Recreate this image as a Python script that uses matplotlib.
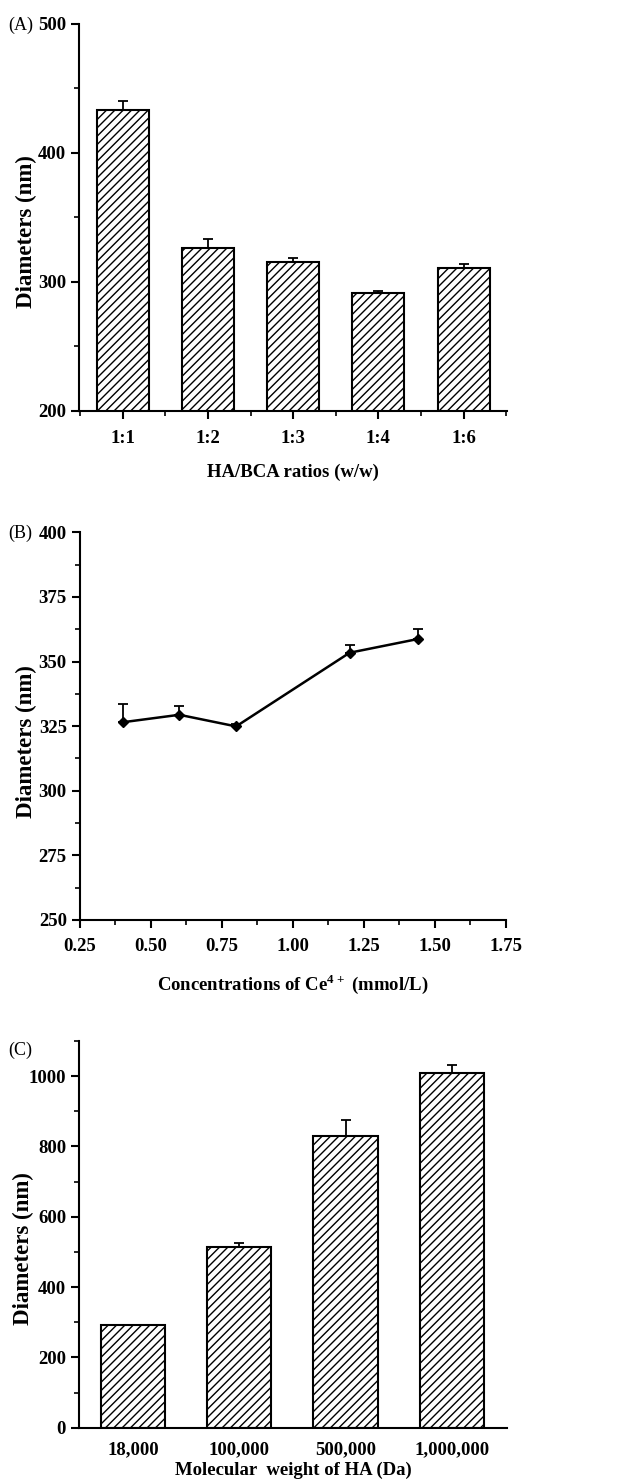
import matplotlib
matplotlib.use("Agg")
import matplotlib.pyplot as plt
from matplotlib.ticker import MultipleLocator, FixedLocator, FormatStrFormatter
import numpy as np

plt.rcParams['font.family'] = ['Liberation Serif', 'DejaVu Serif']
plt.rcParams['mathtext.fontset'] = 'custom'
plt.rcParams['mathtext.rm'] = 'Liberation Serif'
plt.rcParams['mathtext.bf'] = 'Liberation Serif:bold'
plt.rcParams['hatch.linewidth'] = 1.0

# Panel A data
ratios = ["1:1", "1:2", "1:3", "1:4", "1:6"]
diam_a = [433, 326.5, 315.5, 291.5, 310.5]
err_a = [7, 7, 3, 1, 3]

# Panel B data
conc_ce = [0.40, 0.60, 0.80, 1.20, 1.44]
diam_b = [326.5, 329.4, 324.9, 353.4, 358.7]
err_b = [7, 3.5, 1, 3, 3.8]

# Panel C data
mw_labels = ["18,000", "100,000", "500,000", "1,000,000"]
diam_c = [292, 515, 831, 1010]
err_c = [0, 9, 44, 21]

W, H = 641, 1484
fig = plt.figure(figsize=(W / 100, H / 100), dpi=100)

LW = 1.5
TICKFS = 13.5
XLABFS = 13.5
YLABFS = 16.5
PANFS = 13


def style(ax):
    for s in ['top', 'right']:
        ax.spines[s].set_visible(False)
    for s in ['left', 'bottom']:
        ax.spines[s].set_linewidth(LW)
    ax.tick_params(which='major', direction='out', length=6, width=LW, labelsize=TICKFS)
    ax.tick_params(which='minor', direction='out', length=3.5, width=1.2)
    for lab in ax.get_xticklabels() + ax.get_yticklabels():
        lab.set_fontweight('bold')


def axes_px(left, top, right, bottom):
    return fig.add_axes([left / W, 1 - bottom / H, (right - left) / W, (bottom - top) / H])


def place_ylabel(ax, text, xpix, frac):
    ax.set_ylabel(text, fontsize=YLABFS, fontweight='bold', va='center')
    bb = ax.get_position()
    ax.yaxis.set_label_coords((xpix / W - bb.x0) / bb.width, frac)


def place_xlabel(ax, text, ypix):
    ax.set_xlabel(text, fontsize=XLABFS, fontweight='bold', va='center')
    bb = ax.get_position()
    ax.xaxis.set_label_coords(0.5, ((1 - ypix / H) - bb.y0) / bb.height)


# ---------- Panel A ----------
axA = axes_px(79.3, 24, 507, 410.7)
xa = np.arange(1, len(ratios) + 1)
axA.bar(xa, diam_a, width=0.61, bottom=0, color='white', edgecolor='black',
        hatch='////', linewidth=1.5, zorder=2)
axA.errorbar(xa, diam_a, yerr=[np.zeros(len(err_a)), err_a], fmt='none',
             ecolor='black', elinewidth=1.3, capsize=3.5, capthick=1.3, zorder=3)
axA.set_ylim(200, 500)
axA.set_xlim(0.49, 5.51)
axA.set_xticks(xa)
axA.set_xticklabels(ratios)
axA.xaxis.set_minor_locator(FixedLocator(np.arange(0.5, 6.0, 1.0)))
axA.yaxis.set_major_locator(MultipleLocator(100))
axA.yaxis.set_minor_locator(MultipleLocator(50))
axA.tick_params(axis='x', pad=8)
place_ylabel(axA, "Diameters (nm)", 26, 0.462)
place_xlabel(axA, "HA/BCA ratios (w/w)", 472)
style(axA)
fig.text(8 / W, 1 - 25 / H, "(A)", fontsize=PANFS, va='center', ha='left')

# ---------- Panel B ----------
axB = axes_px(80, 532.3, 505.7, 920)
axB.errorbar(conc_ce, diam_b, yerr=[np.zeros(len(err_b)), err_b], fmt='-D',
             color='black', markersize=5, linewidth=1.8, elinewidth=1.3,
             capsize=3.5, capthick=1.3)
axB.set_ylim(250, 400)
axB.set_xlim(0.25, 1.75)
axB.xaxis.set_major_locator(MultipleLocator(0.25))
axB.xaxis.set_minor_locator(MultipleLocator(0.125))
axB.yaxis.set_major_locator(MultipleLocator(25))
axB.yaxis.set_minor_locator(MultipleLocator(12.5))
axB.xaxis.set_major_formatter(FormatStrFormatter('%.2f'))
axB.tick_params(axis='x', pad=7)
place_ylabel(axB, "Diameters (nm)", 26, 0.46)
place_xlabel(axB, r"Concentrations of Ce$^{\mathbf{4+}}$ (mmol/L)", 984)
style(axB)
fig.text(8 / W, 1 - 533 / H, "(B)", fontsize=PANFS, va='center', ha='left')

# ---------- Panel C ----------
axC = axes_px(79.3, 1041, 506.7, 1427.7)
xc = np.arange(1, len(mw_labels) + 1)
axC.bar(xc, diam_c, width=0.605, color='white', edgecolor='black',
        hatch='////', linewidth=1.5, zorder=2)
xe = [x for x, e in zip(xc, err_c) if e > 0]
ye = [y for y, e in zip(diam_c, err_c) if e > 0]
ee = [e for e in err_c if e > 0]
axC.errorbar(xe, ye, yerr=[np.zeros(len(ee)), ee], fmt='none', ecolor='black',
             elinewidth=1.3, capsize=3.5, capthick=1.3, zorder=3)
axC.set_ylim(0, 1100)
axC.set_xlim(0.495, 4.515)
axC.set_xticks(xc)
axC.set_xticklabels(mw_labels)
axC.yaxis.set_major_locator(FixedLocator([0, 200, 400, 600, 800, 1000]))
axC.yaxis.set_minor_locator(MultipleLocator(100))
place_ylabel(axC, "Diameters (nm)", 23, 0.462)
place_xlabel(axC, "Molecular  weight of HA (Da)", 1470)
style(axC)
axC.tick_params(axis='x', which='major', length=0, pad=10)
fig.text(8 / W, 1 - 1050 / H, "(C)", fontsize=PANFS, va='center', ha='left')

fig.savefig("out.png", dpi=100)
